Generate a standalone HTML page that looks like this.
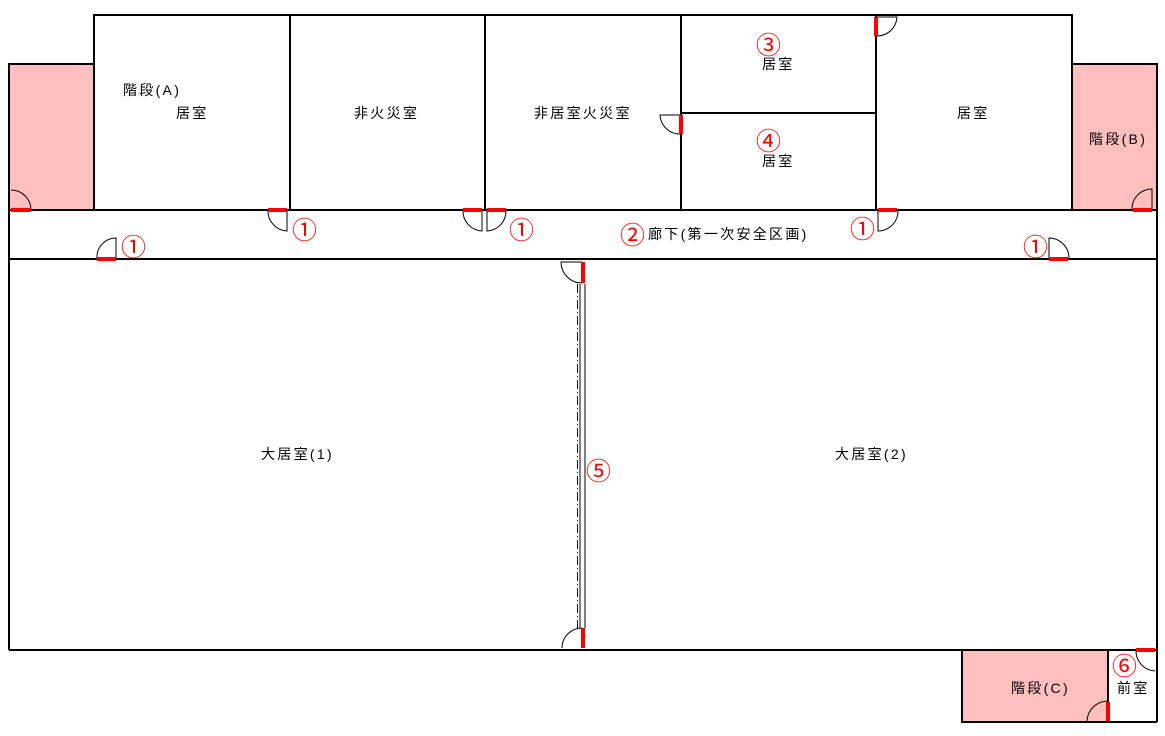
<!DOCTYPE html>
<html><head><meta charset="utf-8"><style>
html,body{margin:0;padding:0;background:#fff;}
svg{display:block;}
text{font-family:"Liberation Sans","Noto Sans CJK JP",sans-serif;font-size:14px;fill:#000;letter-spacing:2.3px;}
.r{fill:#f00;font-size:25px;letter-spacing:0;}
</style></head><body>
<svg width="1165" height="736" viewBox="0 0 1165 736" xmlns="http://www.w3.org/2000/svg">
<rect x="0" y="0" width="1165" height="736" fill="#fff"/>
<rect x="9" y="64" width="85" height="146" fill="#ffbfbf"/>
<rect x="1072" y="64" width="85" height="146" fill="#ffbfbf"/>
<rect x="962" y="650" width="146" height="72" fill="#ffbfbf"/>
<g stroke="#000" stroke-width="2" fill="none">
<rect x="94" y="15" width="978" height="195"/>
<line x1="290" y1="15" x2="290" y2="210"/>
<line x1="485" y1="15" x2="485" y2="210"/>
<line x1="681" y1="15" x2="681" y2="210"/>
<line x1="876" y1="15" x2="876" y2="210"/>
<line x1="681" y1="113" x2="876" y2="113"/>
<polyline points="94,64 9,64 9,650"/>
<polyline points="1072,64 1157,64 1157,722"/>
<line x1="9" y1="210" x2="1157" y2="210"/>
<line x1="9" y1="259" x2="1157" y2="259"/>
<line x1="9" y1="650" x2="1157" y2="650"/>
<polyline points="962,650 962,722 1157,722"/>
<line x1="1108" y1="650" x2="1108" y2="722"/>
</g>
<g stroke="#000" fill="none">
<line x1="580" y1="284" x2="580" y2="628" stroke-width="1"/>
<line x1="585" y1="284" x2="585" y2="628" stroke-width="1"/>
<line x1="577.5" y1="284" x2="577.5" y2="628" stroke-width="1" stroke-dasharray="9,3,1,3"/>
</g>
<g stroke="#000" stroke-width="1" fill="none">
<path d="M11,190 A20,20 0 0 1 31,210"/>
<path d="M116,258 L116,238 A19,19 0 0 0 97,258"/>
<path d="M287,210 L287,231 A20,20 0 0 1 268,210"/>
<path d="M482,210 L482,231 A20,20 0 0 1 463,210"/>
<path d="M487,210 L487,231 A20,20 0 0 0 506,210"/>
<path d="M878,210 L878,231 A20,20 0 0 0 898,210"/>
<path d="M1049,258 L1049,238 A20,20 0 0 1 1069,258"/>
<path d="M1152,210 L1152,189 A20,20 0 0 0 1132,210"/>
<path d="M876,36 L877,36 A20,20 0 0 0 897,17 L876,17"/>
<path d="M681,134 A20,20 0 0 1 660,115 L681,115"/>
<path d="M582,283 A21,21 0 0 1 561,262 L582,262"/>
<path d="M582,628 A20,20 0 0 0 562,648"/>
<path d="M1155,671 A20,20 0 0 1 1136,651"/>
<path d="M1108,701 A21,21 0 0 0 1087,721"/>
</g>
<g fill="#f00">
<rect x="11" y="208" width="20" height="4"/>
<rect x="97" y="257" width="19" height="4"/>
<rect x="268" y="208" width="19" height="4"/>
<rect x="463" y="208" width="19" height="4"/>
<rect x="487" y="208" width="19" height="4"/>
<rect x="878" y="208" width="19" height="4"/>
<rect x="1049" y="257" width="19" height="4"/>
<rect x="1133" y="208" width="19" height="4"/>
<rect x="874" y="17" width="4" height="19"/>
<rect x="679" y="115" width="4" height="19"/>
<rect x="581" y="262" width="4" height="21"/>
<rect x="581" y="628" width="4" height="20"/>
<rect x="1136" y="648" width="19" height="4"/>
<rect x="1106" y="702" width="4" height="19"/>
</g>
<text x="123" y="95">階段(A)</text>
<text x="176" y="118">居室</text>
<text x="354" y="118">非火災室</text>
<text x="534" y="118">非居室火災室</text>
<text x="762" y="69">居室</text>
<text x="762" y="166">居室</text>
<text x="957" y="118">居室</text>
<text x="1089" y="144">階段(B)</text>
<text x="648" y="239">廊下(第一次安全区画)</text>
<text x="261" y="459">大居室(1)</text>
<text x="835" y="459">大居室(2)</text>
<text x="1011" y="693">階段(C)</text>
<text x="1117" y="693">前室</text>
<text class="r" x="756" y="54">③</text>
<text class="r" x="756" y="150">④</text>
<text class="r" x="292" y="239">①</text>
<text class="r" x="509" y="239">①</text>
<text class="r" x="850" y="238">①</text>
<text class="r" x="121" y="256">①</text>
<text class="r" x="1023" y="256">①</text>
<text class="r" x="620" y="244">②</text>
<text class="r" x="586" y="480">⑤</text>
<text class="r" x="1112" y="675">⑥</text>
</svg>
</body></html>
